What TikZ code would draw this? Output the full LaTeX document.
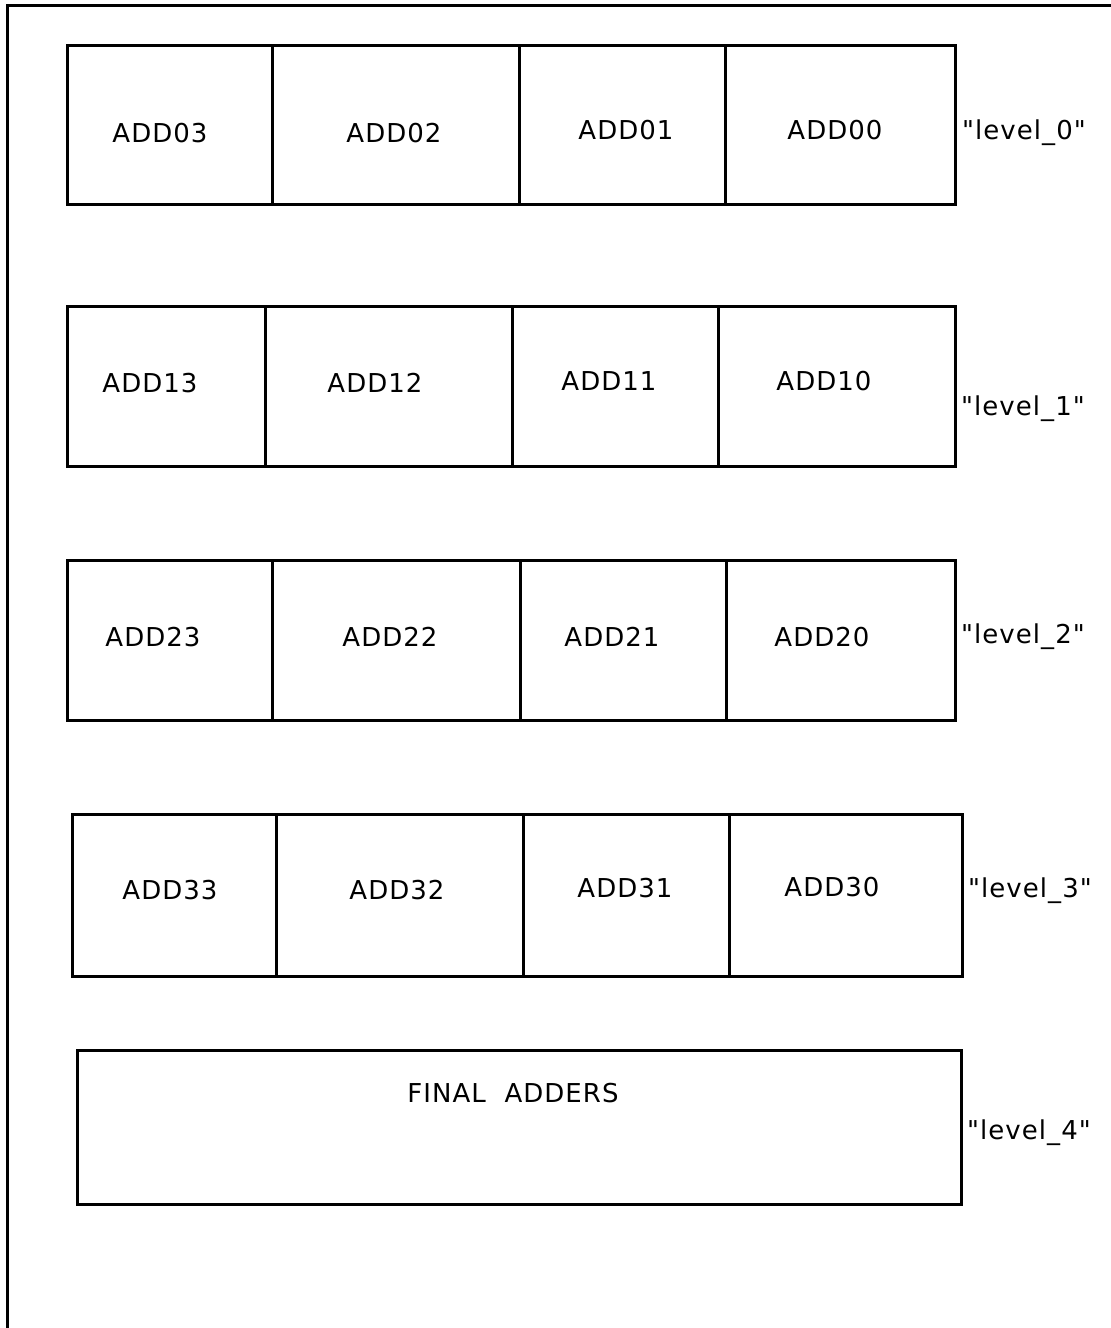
\documentclass[tikz,border=0pt]{standalone}
\usepackage{fontspec}
\newfontfamily\plotfont[LetterSpace=4]{DejaVu Sans}
\usepackage{tikz}
\usetikzlibrary{positioning}
\tikzset{
  frameline/.style={line width=3pt,line cap=rect},
  rowline/.style={line width=3pt,line join=miter},
  addtxt/.style={inner sep=0pt,font=\fontsize{26}{29}\plotfont},
  lvltxt/.style={inner sep=0pt,anchor=west,font=\fontsize{26}{29}\plotfont},
}

\begin{document}
\begin{tikzpicture}[x=1pt,y=-1pt]

  \useasboundingbox (0,0) rectangle (1111,1328);

  % sheet frame (cut at right and bottom)
  \draw[frameline] (7,1328) -- (7,5) -- (1111,5);

  % level 0
  \draw[rowline] (67,45) rectangle (955,204);
  \draw[rowline] (272,45) -- (272,204);
  \draw[rowline] (519,45) -- (519,204);
  \draw[rowline] (725,45) -- (725,204);
  \node[addtxt] (add03) at (160,133) {ADD03};
  \node[addtxt] (add02) at (394,133) {ADD02};
  \node[addtxt] (add01) at (626,130) {ADD01};
  \node[addtxt] (add00) at (835,130) {ADD00};
  \node[lvltxt] (lvl0) at (962,133) {"level\_0"};

  % level 1
  \draw[rowline] (67,306) rectangle (955,466);
  \draw[rowline] (265,306) -- (265,466);
  \draw[rowline] (512,306) -- (512,466);
  \draw[rowline] (718,306) -- (718,466);
  \node[addtxt] (add13) at (150,383) {ADD13};
  \node[addtxt] (add12) at (375,383) {ADD12};
  \node[addtxt] (add11) at (609,381) {ADD11};
  \node[addtxt] (add10) at (824,381) {ADD10};
  \node[lvltxt] (lvl1) at (961,409) {"level\_1"};

  % level 2
  \draw[rowline] (67,560) rectangle (955,720);
  \draw[rowline] (272,560) -- (272,720);
  \draw[rowline] (520,560) -- (520,720);
  \draw[rowline] (726,560) -- (726,720);
  \node[addtxt] (add23) at (153,637) {ADD23};
  \node[addtxt] (add22) at (390,637) {ADD22};
  \node[addtxt] (add21) at (612,637) {ADD21};
  \node[addtxt] (add20) at (822,637) {ADD20};
  \node[lvltxt] (lvl2) at (961,637) {"level\_2"};

  % level 3
  \draw[rowline] (72,814) rectangle (962,976);
  \draw[rowline] (276,814) -- (276,976);
  \draw[rowline] (523,814) -- (523,976);
  \draw[rowline] (729,814) -- (729,976);
  \node[addtxt] (add33) at (170,890) {ADD33};
  \node[addtxt] (add32) at (397,890) {ADD32};
  \node[addtxt] (add31) at (625,888) {ADD31};
  \node[addtxt] (add30) at (832,887) {ADD30};
  \node[lvltxt] (lvl3) at (968,891) {"level\_3"};

  % level 4
  \draw[rowline] (77,1050) rectangle (961,1204);
  \node[addtxt] (final) at (513,1093) {FINAL\ \ ADDERS};
  \node[lvltxt] (lvl4) at (967,1133) {"level\_4"};

\end{tikzpicture}
\end{document}
